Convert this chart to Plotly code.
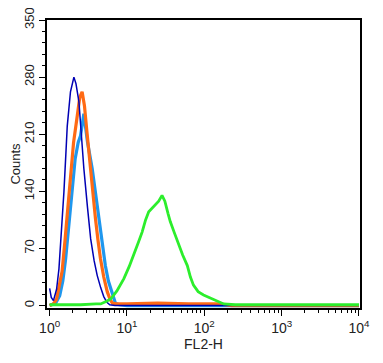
import plotly.graph_objects as go

# Dark blue (isotype / unstained)
navy_x = [1.00, 1.05, 1.12, 1.23, 1.32, 1.43, 1.53, 1.62, 1.69, 1.86, 2.00, 2.06, 2.19, 2.39, 2.57,
          2.77, 3.09, 3.39, 3.76, 4.12, 4.57, 5.01, 5.50, 6.00, 7.0, 10000]
navy_y = [21, 10, 6, 20, 45, 90, 139, 185, 220, 262, 278, 280, 272, 250, 210,
          168, 120, 82, 55, 37, 22, 11, 4, 1, 0, 0]

# Light blue
sky_x = [1.00, 1.20, 1.35, 1.48, 1.61, 1.78, 1.95, 2.14, 2.34, 2.51, 2.77, 3.09, 3.55, 3.89,
         4.33, 4.79, 5.25, 5.75, 6.17, 6.61, 7.08, 7.94, 10.0, 10000]
sky_y = [0, 3, 12, 30, 57, 100, 143, 180, 200, 208, 235, 200, 168, 140,
         110, 78, 49, 30, 21, 10, 3, 1, 0, 0]

# Orange
orange_x = [1.00, 1.12, 1.23, 1.35, 1.45, 1.58, 1.72, 1.86, 2.04, 2.28, 2.45, 2.63, 2.82, 3.02,
            3.21, 3.55, 3.92, 4.22, 4.55, 5.01, 5.56, 6.03, 6.46, 7.24, 10.0, 25.0, 63.0, 158.0,
            224.0, 10000]
orange_y = [0, 2, 8, 25, 42, 80, 120, 159, 200, 233, 255, 262, 245, 215,
            188, 145, 106, 80, 57, 35, 17, 8, 3, 2, 2, 3, 2, 2,
            0, 0]

# Green
green_x = [1.00, 2.51, 3.98, 4.57, 5.37, 6.17, 7.41, 9.12, 10.7, 12.3, 14.1, 15.7, 17.4, 19.1,
           21.4, 23.4, 25.7, 28.4, 30.9, 33.9, 36.3, 40.7, 46.8, 52.5, 60.3, 66.1, 72.4, 83.2,
           97.7, 120, 145, 178, 251, 10000]
green_y = [1, 1, 2, 2, 5, 8, 18, 33, 48, 62, 78, 90, 105, 115,
           120, 123, 128, 135, 128, 113, 103, 90, 74, 62, 49, 35, 25, 17,
           13, 9, 6, 2, 1, 1]

x_tickvals = [1, 10, 100, 1000, 10000]
x_ticktext = ["10<sup>0</sup>", "10<sup>1</sup>", "10<sup>2</sup>", "10<sup>3</sup>", "10<sup>4</sup>"]
y_tickvals = [0, 70, 140, 210, 280, 350]

fig = go.Figure()
fig.add_trace(go.Scatter(x=sky_x, y=sky_y, mode="lines", line=dict(color="#1f97ee", width=3.2)))
fig.add_trace(go.Scatter(x=orange_x, y=orange_y, mode="lines", line=dict(color="#ff6a14", width=3.2)))
fig.add_trace(go.Scatter(x=navy_x, y=navy_y, mode="lines", line=dict(color="#0000b4", width=1.5)))
fig.add_trace(go.Scatter(x=green_x, y=green_y, mode="lines", line=dict(color="#2cee2c", width=2.8)))

font = "Liberation Sans, Arial, sans-serif"
fig.update_layout(
    width=375, height=355,
    margin=dict(l=39, r=23, t=12, b=55, pad=0),
    plot_bgcolor="white", paper_bgcolor="white",
    showlegend=False,
    font=dict(family=font, color="#222", size=13),
)
fig.update_xaxes(
    type="log", range=[-0.034, 4.013], automargin=False, ticklabeloverflow="allow",
    tickvals=x_tickvals, ticktext=x_ticktext,
    ticks="outside", ticklen=6, tickwidth=1.3, tickcolor="black",
    minor=dict(ticks="outside", ticklen=3, tickwidth=1, tickcolor="black", dtick="D1"),
    showline=True, linecolor="black", linewidth=1.5, mirror=True,
    showgrid=False, zeroline=False,
    tickfont=dict(size=14, family=font),
    title=dict(text="FL2-H", font=dict(size=14, family=font), standoff=0),
)
fig.update_yaxes(
    range=[-3, 350], automargin=False, ticklabeloverflow="allow",
    tickvals=y_tickvals, tickangle=-90,
    ticks="outside", ticklen=6, tickwidth=1.3, tickcolor="black",
    minor=dict(ticks="outside", ticklen=3, tickwidth=1, tickcolor="black", dtick=14),
    showline=True, linecolor="black", linewidth=1.5, mirror=True,
    showgrid=False, zeroline=False,
    tickfont=dict(size=13, family=font),
    title=dict(text="Counts", font=dict(size=13, family=font), standoff=2),
)
fig.write_html("out.html")
